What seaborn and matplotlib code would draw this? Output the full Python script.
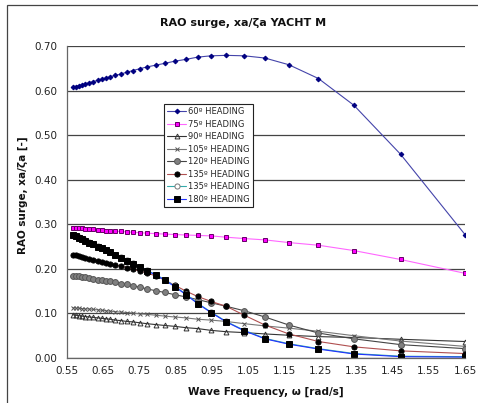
import matplotlib
matplotlib.use("Agg")
import matplotlib.pyplot as plt
import seaborn as sns
import numpy as np
import pandas as pd
from matplotlib.patches import Rectangle

# ---------------- data ----------------
omega = [0.566, 0.574, 0.582, 0.591, 0.601, 0.612, 0.623, 0.635, 0.646, 0.657,
         0.669, 0.683, 0.698, 0.715, 0.732, 0.751, 0.771, 0.795, 0.820, 0.848,
         0.879, 0.911, 0.948, 0.990, 1.040, 1.097, 1.163, 1.245, 1.343, 1.472, 1.650]

h60 = [0.607, 0.609, 0.611, 0.613, 0.615, 0.618, 0.620, 0.623, 0.626, 0.628,
       0.631, 0.634, 0.637, 0.641, 0.645, 0.649, 0.653, 0.657, 0.661, 0.666,
       0.670, 0.675, 0.678, 0.679, 0.678, 0.673, 0.658, 0.627, 0.567, 0.457, 0.277]
h75 = [0.292, 0.292, 0.291, 0.291, 0.290, 0.290, 0.289, 0.288, 0.287, 0.286,
       0.285, 0.284, 0.284, 0.283, 0.282, 0.281, 0.280, 0.279, 0.278, 0.277,
       0.276, 0.275, 0.274, 0.271, 0.268, 0.265, 0.259, 0.253, 0.241, 0.221, 0.190]
h90 = [0.097, 0.096, 0.095, 0.094, 0.093, 0.092, 0.091, 0.090, 0.089, 0.088,
       0.087, 0.085, 0.084, 0.082, 0.081, 0.079, 0.077, 0.075, 0.073, 0.071,
       0.068, 0.066, 0.062, 0.059, 0.057, 0.054, 0.051, 0.048, 0.046, 0.042, 0.037]
h105 = [0.113, 0.112, 0.112, 0.111, 0.110, 0.110, 0.109, 0.108, 0.107, 0.106,
        0.105, 0.104, 0.103, 0.102, 0.101, 0.099, 0.098, 0.096, 0.094, 0.092,
        0.090, 0.087, 0.085, 0.082, 0.077, 0.072, 0.067, 0.060, 0.050, 0.038, 0.026]
h120 = [0.185, 0.184, 0.183, 0.182, 0.181, 0.179, 0.178, 0.176, 0.175, 0.173,
        0.172, 0.170, 0.167, 0.165, 0.162, 0.159, 0.155, 0.151, 0.147, 0.142,
        0.137, 0.131, 0.124, 0.116, 0.106, 0.092, 0.074, 0.056, 0.043, 0.030, 0.021]
h135a = [0.232, 0.230, 0.228, 0.226, 0.224, 0.222, 0.220, 0.218, 0.216, 0.214,
         0.211, 0.209, 0.206, 0.203, 0.199, 0.195, 0.191, 0.184, 0.175, 0.163,
         0.150, 0.138, 0.127, 0.116, 0.096, 0.074, 0.054, 0.037, 0.025, 0.016, 0.010]
h135b = [0.277, 0.274, 0.271, 0.268, 0.264, 0.260, 0.256, 0.251, 0.247, 0.243,
         0.238, 0.232, 0.226, 0.219, 0.213, 0.205, 0.197, 0.187, 0.176, 0.161,
         0.143, 0.123, 0.103, 0.082, 0.062, 0.044, 0.032, 0.021, 0.010, 0.004, 0.003]
h180 = [0.276, 0.273, 0.270, 0.267, 0.263, 0.259, 0.255, 0.250, 0.246, 0.242,
        0.237, 0.231, 0.225, 0.218, 0.212, 0.204, 0.196, 0.186, 0.175, 0.160,
        0.142, 0.122, 0.102, 0.081, 0.061, 0.043, 0.031, 0.020, 0.009, 0.003, 0.002]

labels = ["60º HEADING", "75º HEADING", "90º HEADING", "105º HEADING",
          "120º HEADING", "135º HEADING", "135º HEADING", "180º HEADING"]
series = [h60, h75, h90, h105, h120, h135a, h135b, h180]

xticks = [0.55, 0.65, 0.75, 0.85, 0.95, 1.05, 1.15, 1.25, 1.35, 1.45, 1.55, 1.65]
yticks = [0.00, 0.10, 0.20, 0.30, 0.40, 0.50, 0.60, 0.70]
title = "RAO surge, xa/ζa YACHT M"
xlabel = "Wave Frequency, ω [rad/s]"
ylabel = "RAO surge, xa/ζa [-]"

# ---------------- styles ----------------
styles = [
    dict(color="#4444aa", marker="D", markersize=2.4, markerfacecolor="#000080", markeredgecolor="#000080"),
    dict(color="#ff66ff", marker="s", markersize=3.5, markerfacecolor="#ff00ff", markeredgecolor="#660066"),
    dict(color="#333333", marker="^", markersize=3.5, markerfacecolor="none", markeredgecolor="#333333"),
    dict(color="#777777", marker="x", markersize=3.0, markerfacecolor="none", markeredgecolor="#555555"),
    dict(color="#444444", marker="o", markersize=4.2, markerfacecolor="#808080", markeredgecolor="#555555"),
    dict(color="#b05050", marker="o", markersize=3.7, markerfacecolor="#000000", markeredgecolor="#000000"),
    dict(color="#33aaaa", marker="o", markersize=3.7, markerfacecolor="white", markeredgecolor="#777777"),
    dict(color="#2233ff", marker="s", markersize=3.9, markerfacecolor="#000000", markeredgecolor="#000000"),
]

sns.set_style("white")
plt.rcParams["font.family"] = ["DejaVu Sans"]

fig = plt.figure(figsize=(4.78, 4.03), dpi=100)
ax = fig.add_axes([67 / 478, 1 - 358 / 403, 398 / 478, 312 / 403])

for lab, ys, st in zip(labels, series, styles):
    df = pd.DataFrame({"omega": omega, "rao": ys})
    sns.lineplot(data=df, x="omega", y="rao", ax=ax, sort=False, label=lab,
                 linewidth=0.8, markeredgewidth=0.7, **st)

ax.set_xlim(0.55, 1.65)
ax.set_ylim(0.0, 0.70)
ax.set_xticks(xticks)
ax.set_xticklabels([f"{v:.2f}" for v in xticks])
ax.set_yticks(yticks)
ax.set_yticklabels([f"{v:.2f}" for v in yticks])
ax.tick_params(axis="x", direction="in", length=3, width=0.8, colors="#555555",
               labelsize=7.5, labelcolor="#222222", pad=6)
ax.tick_params(axis="y", direction="out", length=4, width=0.8, colors="#555555",
               labelsize=7.5, labelcolor="#222222", pad=3)

ax.grid(axis="y", color="#444444", linewidth=0.9)
ax.grid(axis="x", visible=False)
ax.set_axisbelow(True)
for s in ["top", "right"]:
    ax.spines[s].set_visible(False)
for s in ["left", "bottom"]:
    ax.spines[s].set_color("#666666")
    ax.spines[s].set_linewidth(0.9)

ax.set_xlabel(xlabel, fontsize=7.5, fontweight="bold", color="#111111")
ax.set_ylabel(ylabel, fontsize=7.5, fontweight="bold", color="#111111")
ax.xaxis.set_label_coords(0.5, -0.092)
ax.yaxis.set_label_coords(-0.098, 0.522)

fig.text(243 / 478, 1 - 23 / 403, title, ha="center", va="center",
         fontsize=8, fontweight="bold", color="#111111")

leg = ax.legend(loc="upper left", bbox_to_anchor=((164 - 67) / 398, (358 - 104) / 312),
                borderaxespad=0, fontsize=6, frameon=True, fancybox=False,
                handlelength=2.2, handletextpad=0.3, labelspacing=0.42,
                borderpad=0.4, edgecolor="#222222")
leg.get_frame().set_linewidth(0.8)
leg.get_frame().set_facecolor("white")
leg.get_frame().set_alpha(1)

# figure border (left & top visible)
fig.patches.append(Rectangle((7 / 478, -0.05), 1.1, 1 - 5 / 403 + 0.05,
                             transform=fig.transFigure, fill=False,
                             edgecolor="#444444", linewidth=0.9))

fig.savefig("out.png", dpi=100)
